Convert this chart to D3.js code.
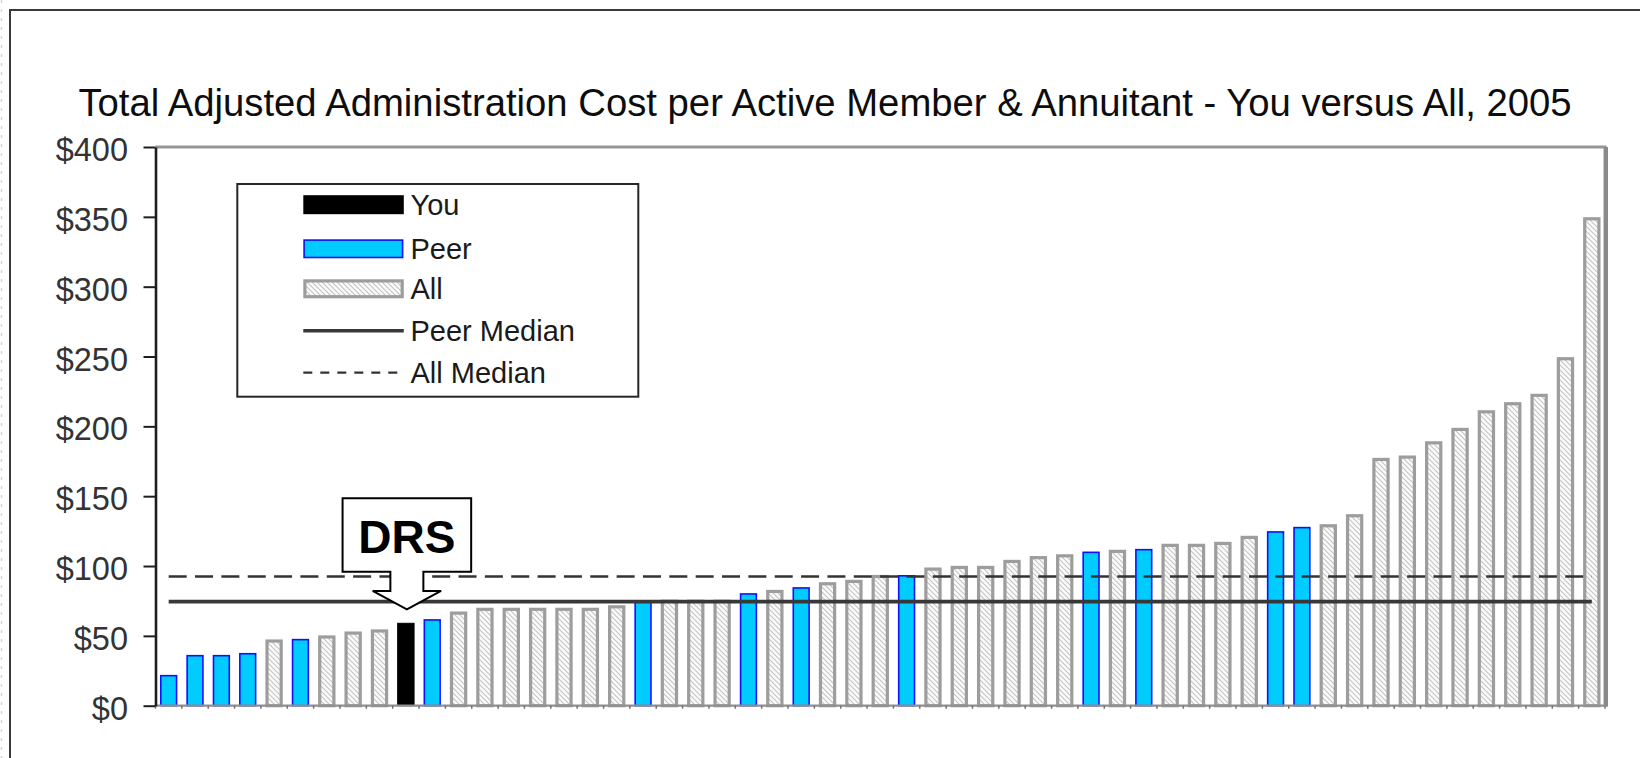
<!DOCTYPE html>
<html>
<head>
<meta charset="utf-8">
<script src="https://cdn.jsdelivr.net/npm/d3@7"></script>
<style>
  html, body { margin: 0; padding: 0; background: #fff; }
  svg { display: block; font-family: "Liberation Sans", Arial, Helvetica, sans-serif; }
</style>
</head>
<body>
<svg id="chart" width="1640" height="758"></svg>
<script>
// ---- data -------------------------------------------------------------
const chartTitle = "Total Adjusted Administration Cost per Active Member & Annuitant - You versus All, 2005";

// group of each system, sorted by cost (ascending)
const groups = [
  "Peer","Peer","Peer","Peer","All","Peer","All","All","All","You",
  "Peer","All","All","All","All","All","All","All","Peer","All",
  "All","All","Peer","All","Peer","All","All","All","Peer","All",
  "All","All","All","All","All","Peer","All","Peer","All","All",
  "All","All","Peer","Peer","All","All","All","All","All","All",
  "All","All","All","All","All"
];

// total adjusted administration cost per active member & annuitant ($)
const costs = [
  21.5, 35.8, 35.8, 37.2, 46.3, 47.3, 49.2, 52.0, 53.5, 59.0,
  61.4, 66.3, 69.0, 69.0, 69.0, 69.0, 69.0, 70.8, 74.5, 74.8,
  74.8, 74.8, 80.0, 81.8, 84.3, 87.3, 89.0, 92.5, 93.0, 97.8,
  99.0, 99.0, 103.3, 106.0, 107.3, 109.8, 110.5, 111.7, 114.8, 114.8,
  116.2, 120.5, 124.4, 127.5, 128.8, 136.0, 176.3, 178.0, 188.2, 197.8,
  210.4, 216.2, 222.2, 248.4, 348.6
];

const yTicks = [0, 50, 100, 150, 200, 250, 300, 350, 400];
const legendLabels = ["You", "Peer", "All", "Peer Median", "All Median"];
const calloutLabel = "DRS";

// ---- medians ------------------------------------------------------------
const peerMedian = d3.median(costs.filter((v, i) => groups[i] !== "All"));
const allMedian = d3.median(costs);

// ---- layout -------------------------------------------------------------
const svg = d3.select("#chart");
const plot = { left: 155.5, right: 1605, top: 147, bottom: 705.7 };

const x = d3.scaleBand()
  .domain(d3.range(costs.length))
  .range([plot.left, plot.right])
  .paddingInner(0.34)
  .paddingOuter(0.17);

const y = d3.scaleLinear().domain([0, 400]).range([plot.bottom, plot.top]);

const bw = x.bandwidth();

// hatch pattern for "All" bars
const defs = svg.append("defs");
const pat = defs.append("pattern")
  .attr("id", "hatch")
  .attr("patternUnits", "userSpaceOnUse")
  .attr("width", 5).attr("height", 5);
pat.append("rect").attr("width", 5).attr("height", 5).attr("fill", "#fbfbfb");
pat.append("path")
  .attr("d", "M0,0 L5,5 M-1,4 L1,6 M4,-1 L6,1")
  .attr("stroke", "#c4c4c4").attr("stroke-width", 1.1);

// outer chart frame
svg.append("rect")
  .attr("x", 10).attr("y", 10)
  .attr("width", 1700).attr("height", 800)
  .attr("fill", "none").attr("stroke", "#3a3a3a").attr("stroke-width", 2);

// faint dotted edge at far left
svg.append("line")
  .attr("x1", 1.5).attr("x2", 1.5).attr("y1", 0).attr("y2", 758)
  .attr("stroke", "#d6d6d6").attr("stroke-width", 1.5)
  .attr("stroke-dasharray", "3,6");

// title
const titleText = svg.append("text")
  .attr("x", 825).attr("y", 116)
  .attr("text-anchor", "middle")
  .attr("font-size", 36)
  .attr("fill", "#0d0d0d")
  .text(chartTitle);
{
  const w = titleText.node().getComputedTextLength();
  titleText.attr("font-size", 36 * 1494 / w);
}

// ---- bars -----------------------------------------------------------------
const style = {
  You:  { fill: "#000000", stroke: "#000000", sw: 1,   inset: 0.5 },
  Peer: { fill: "#00ccff", stroke: "#1010ff", sw: 1.6, inset: 0.8 },
  All:  { fill: "url(#hatch)", stroke: "#9d9d9d", sw: 3.2, inset: 1.6 }
};

svg.append("g").selectAll("rect")
  .data(costs)
  .join("rect")
  .attr("x", (d, i) => x(i) + style[groups[i]].inset)
  .attr("width", (d, i) => bw - 2 * style[groups[i]].inset)
  .attr("y", d => y(d))
  .attr("height", d => y(0) - y(d))
  .attr("fill", (d, i) => style[groups[i]].fill)
  .attr("stroke", (d, i) => style[groups[i]].stroke)
  .attr("stroke-width", (d, i) => style[groups[i]].sw);

// ---- plot frame & axes ------------------------------------------------------
// x axis baseline with small category ticks
svg.append("line")
  .attr("x1", plot.left).attr("x2", plot.right)
  .attr("y1", y(0)).attr("y2", y(0))
  .attr("stroke", "#8f8f8f").attr("stroke-width", 2.2);
svg.append("g").selectAll("line")
  .data(d3.range(costs.length + 1))
  .join("line")
  .attr("x1", i => plot.left + i * x.step())
  .attr("x2", i => plot.left + i * x.step())
  .attr("y1", y(0)).attr("y2", y(0) + 3)
  .attr("stroke", "#707070").attr("stroke-width", 1.5);

// top and right frame
svg.append("path")
  .attr("d", `M${plot.left},${plot.top} H${plot.right} V${plot.bottom}`)
  .attr("fill", "none").attr("stroke", "#959595").attr("stroke-width", 3);
svg.append("line")
  .attr("x1", plot.right + 1).attr("x2", plot.right + 1)
  .attr("y1", plot.top).attr("y2", plot.bottom + 1)
  .attr("stroke", "#8a8a8a").attr("stroke-width", 4);

// y axis
const yAxis = svg.append("g")
  .attr("transform", `translate(${plot.left},0)`)
  .call(d3.axisLeft(y)
    .tickValues(yTicks)
    .tickSize(12)
    .tickSizeOuter(0)
    .tickPadding(15.5)
    .tickFormat(d => "$" + d));
yAxis.select(".domain").attr("stroke", "#1e1e1e").attr("stroke-width", 2.6);
yAxis.selectAll(".tick line").attr("stroke", "#1e1e1e").attr("stroke-width", 2);
yAxis.selectAll(".tick text")
  .attr("font-family", "'Liberation Sans', Arial, sans-serif")
  .attr("font-size", 32.5)
  .attr("fill", "#333")
  .attr("dy", null)
  .attr("y", 13.5);

// ---- median lines -------------------------------------------------------------
const firstC = x(0) + bw / 2;
const lastC = x(costs.length - 1) + bw / 2;
svg.append("line")
  .attr("x1", firstC).attr("x2", lastC)
  .attr("y1", y(allMedian)).attr("y2", y(allMedian))
  .attr("stroke", "#333").attr("stroke-width", 2.6)
  .attr("stroke-dasharray", "18,8.35");
svg.append("line")
  .attr("x1", firstC).attr("x2", lastC)
  .attr("y1", y(peerMedian)).attr("y2", y(peerMedian))
  .attr("stroke", "#383838").attr("stroke-width", 3.6);

// ---- callout pointing at "You" ---------------------------------------------------
const youIdx = groups.indexOf("You");
const cx = x(youIdx) + bw / 2 + 1;
const tipY = y(costs[youIdx]) - 14;
const boxTop = tipY - 111, boxBot = tipY - 37.6, stemBot = tipY - 18.3;
const callout = svg.append("g");
callout.append("path")
  .attr("d", [
    ["M", cx - 64.3, boxTop], ["L", cx + 64.3, boxTop], ["L", cx + 64.3, boxBot],
    ["L", cx + 16.5, boxBot], ["L", cx + 16.5, stemBot], ["L", cx + 34.2, stemBot],
    ["L", cx, tipY], ["L", cx - 34.2, stemBot], ["L", cx - 16.5, stemBot],
    ["L", cx - 16.5, boxBot], ["L", cx - 64.3, boxBot]
  ].map(p => p[0] + p[1] + "," + p[2]).join(" ") + " Z")
  .attr("fill", "#fff").attr("stroke", "#000").attr("stroke-width", 2)
  .attr("stroke-linejoin", "miter");
callout.append("text")
  .attr("x", cx).attr("y", tipY - 56.6)
  .attr("text-anchor", "middle")
  .attr("font-size", 46).attr("font-weight", "bold")
  .attr("fill", "#000")
  .text(calloutLabel);

// ---- legend ------------------------------------------------------------------------
const lg = svg.append("g");
lg.append("rect")
  .attr("x", 237.3).attr("y", 184).attr("width", 401).attr("height", 212.7)
  .attr("fill", "#fff").attr("stroke", "#262626").attr("stroke-width", 2);

const rowY = [204.7, 248.8, 288.8, 330.7, 372.7];
const swX = 303.3, swW = 100.5, swH = 19;

lg.append("rect").attr("x", swX).attr("y", rowY[0] - swH / 2).attr("width", swW).attr("height", swH)
  .attr("fill", "#000");
lg.append("rect").attr("x", swX + 0.8).attr("y", rowY[1] - swH / 2 + 0.8).attr("width", swW - 2).attr("height", swH - 1.6)
  .attr("fill", "#00ccff").attr("stroke", "#1010ff").attr("stroke-width", 1.6);
lg.append("rect").attr("x", swX + 1.6).attr("y", rowY[2] - swH / 2 + 1.6).attr("width", swW - 3.2).attr("height", swH - 3.2)
  .attr("fill", "url(#hatch)").attr("stroke", "#9d9d9d").attr("stroke-width", 3.2);
lg.append("line").attr("x1", swX).attr("x2", swX + swW).attr("y1", rowY[3]).attr("y2", rowY[3])
  .attr("stroke", "#383838").attr("stroke-width", 3.6);
lg.append("line").attr("x1", swX).attr("x2", swX + swW).attr("y1", rowY[4]).attr("y2", rowY[4])
  .attr("stroke", "#333").attr("stroke-width", 2.2).attr("stroke-dasharray", "9,8");

lg.selectAll("text.lab")
  .data(legendLabels)
  .join("text")
  .attr("class", "lab")
  .attr("x", 410.5)
  .attr("y", (d, i) => rowY[i] + 10)
  .attr("font-size", 29)
  .attr("fill", "#1a1a1a")
  .text(d => d);
</script>
</body>
</html>
